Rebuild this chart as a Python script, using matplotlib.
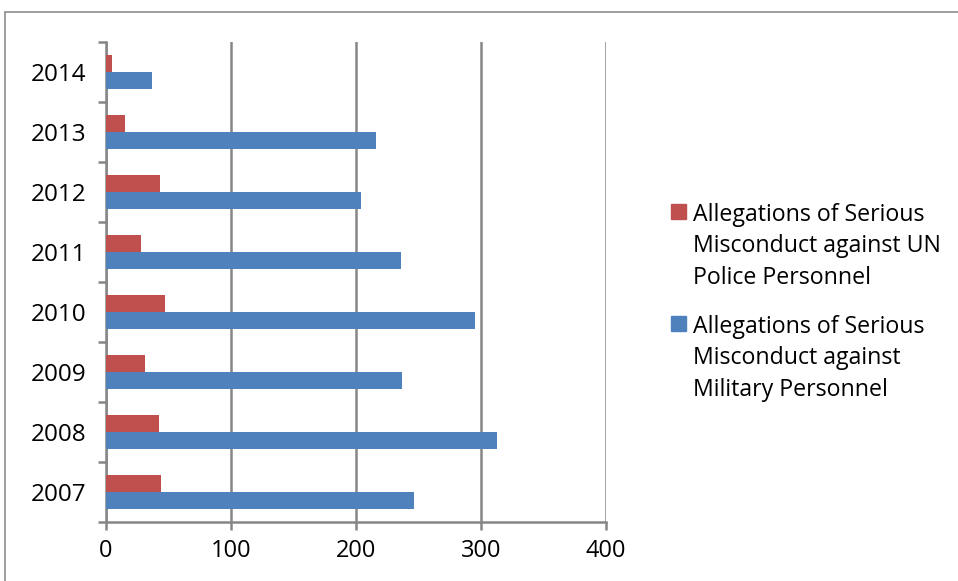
import numpy as np
import matplotlib
matplotlib.use("Agg")
import matplotlib.pyplot as plt
from matplotlib.patches import Rectangle

# data
years = ['2007', '2008', '2009', '2010', '2011', '2012', '2013', '2014']
police = [44, 42, 31, 47, 28, 43, 15, 5]
military = [246, 313, 237, 295, 236, 204, 216, 37]
police_label = 'Allegations of Serious\nMisconduct against UN\nPolice Personnel'
military_label = 'Allegations of Serious\nMisconduct against\nMilitary Personnel'
red = '#C0504D'
blue = '#4F81BD'

W, H = 958, 581
fig = plt.figure(figsize=(W / 100, H / 100), dpi=100)
plt.rcParams['font.family'] = ['Open Sans', 'DejaVu Sans']

# plot area in pixels: x 106..606, y 42..522
ax = fig.add_axes([106 / W, 1 - 522 / H, 500 / W, 480 / H])

# outer chart frame
fig.patches.append(Rectangle((5 / W, -0.1), 1.2, 1 - 12 / H + 0.1,
                             transform=fig.transFigure, fill=False,
                             edgecolor='#8c8c8c', linewidth=1.2, clip_on=False))

y = np.arange(len(years))
h = 0.283
ax.barh(y + h / 2, police, height=h, color=red, zorder=3)
ax.barh(y - h / 2, military, height=h, color=blue, zorder=3)

ax.set_xlim(0, 400)
ax.set_ylim(-0.5, len(years) - 0.5)
ax.set_xticks([0, 100, 200, 300, 400])
ax.set_yticks(y)
ax.set_yticklabels(years)
ax.set_yticks(np.arange(-0.5, len(years)), minor=True)

grid_c = '#868686'
ax.grid(axis='x', color=grid_c, linewidth=1.8, zorder=0)
for s in ['top', 'right']:
    ax.spines[s].set_visible(False)
for s in ['left', 'bottom']:
    ax.spines[s].set_color(grid_c)
    ax.spines[s].set_linewidth(1.8)

ax.tick_params(axis='y', which='major', length=0, labelsize=17.5, pad=14)
ax.tick_params(axis='y', which='minor', length=6, width=1.8, color=grid_c)
ax.tick_params(axis='x', length=6, width=1.8, color=grid_c, labelsize=17, pad=6)

# legend, drawn by hand so the marker sits on the first text line
for lab, col, ytop in [(police_label, red, 203), (military_label, blue, 315)]:
    fig.patches.append(Rectangle((671 / W, 1 - (ytop + 16) / H), 15 / W, 15 / H,
                                 transform=fig.transFigure, color=col))
    fig.text(693 / W, 1 - ytop / H, lab, fontsize=16.7, va='top', ha='left',
             linespacing=1.41)

fig.savefig('out.png', dpi=100)
